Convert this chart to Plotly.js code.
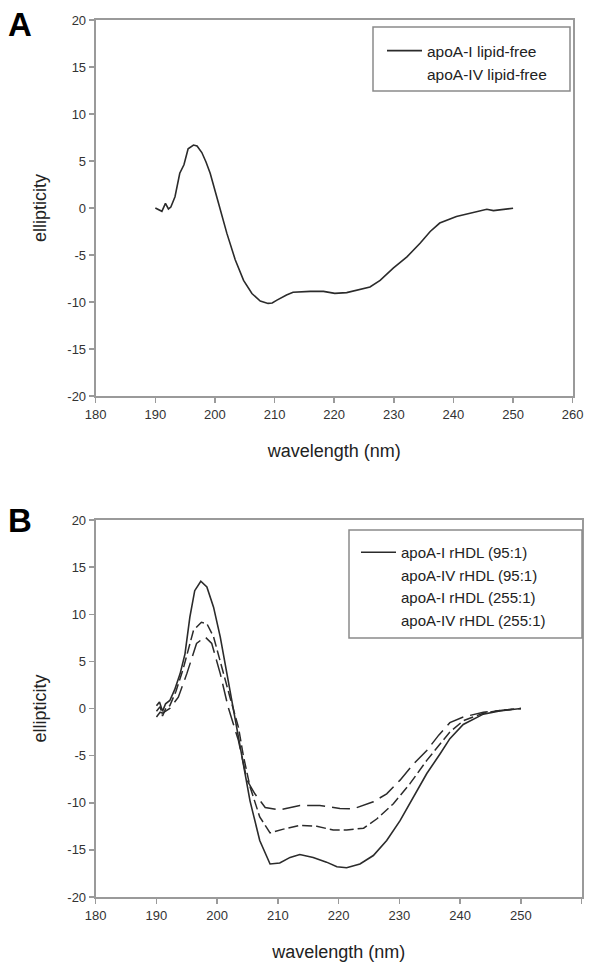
<!DOCTYPE html>
<html>
<head>
<meta charset="utf-8">
<script src="https://cdn.plot.ly/plotly-3.0.1.min.js"></script>
<style>html,body{margin:0;padding:0;background:#fff;}#chart{width:591px;height:968px;}</style>
</head>
<body>
<div id="chart"></div>
<script>
// ---- Panel A data ----
const A_apoAI_x = [190,190.5,191.1,191.7,192.2,192.6,193.3,194.1,194.8,195.5,196.4,197.0,197.8,198.5,199.2,200.6,202.0,203.4,204.8,206.2,207.6,208.9,209.6,210.4,212.0,213.1,214.5,216.0,218.2,220.1,222.1,224.3,226.0,227.7,229.9,232.2,234.4,236.1,237.7,240.5,242.8,245.6,246.7,248.5,250.0];
const A_apoAI_y = [0,-0.2,-0.35,0.5,-0.1,0.1,1.2,3.7,4.6,6.3,6.7,6.6,5.9,4.9,3.7,0.5,-2.7,-5.5,-7.7,-9.1,-9.9,-10.15,-10.1,-9.8,-9.25,-8.97,-8.9,-8.87,-8.87,-9.08,-9.0,-8.7,-8.4,-7.7,-6.4,-5.2,-3.75,-2.5,-1.6,-0.9,-0.57,-0.14,-0.28,-0.15,-0.03];
// apoA-IV lipid-free: no curve is visible in the reference picture
const A_apoAIV_x = [null];
const A_apoAIV_y = [null];

// ---- Panel B data ----
const B_apoAI95_x = [190,190.5,191,191.5,192.2,193.0,193.9,194.7,195.5,196.3,197.3,198.3,199.4,200.5,201.6,202.6,203.4,204.3,205.4,207.0,208.7,210.3,212.0,213.6,215.8,218.0,219.7,221.3,223.5,225.7,227.9,230.1,232.3,234.5,236.7,238.3,240.5,243.8,246.5,250];
const B_apoAI95_y = [0.3,0.7,-0.3,0.5,0.85,2.0,3.7,5.8,9.7,12.5,13.5,12.9,10.75,7.6,3.7,0.15,-3.0,-6.2,-9.8,-14.0,-16.5,-16.4,-15.8,-15.5,-15.8,-16.3,-16.8,-16.9,-16.5,-15.6,-14.0,-11.9,-9.4,-6.9,-4.8,-3.2,-1.7,-0.6,-0.25,0];
const B_apoAIV95_x = [190,190.6,191,191.6,192.2,193.2,194.4,195.3,196.1,197.4,198.3,199.4,200.7,202.1,203.5,204.3,205.4,207.0,208.7,210.9,213.6,216.4,219.1,221.3,224.1,226.3,229.0,231.7,234.5,236.7,238.3,240.5,243.8,246.5,250];
const B_apoAIV95_y = [-0.3,0.2,-0.8,0.1,0.3,1.8,4.2,6.5,8.3,9.15,9.0,7.6,4.4,1.2,-2.0,-5.0,-8.3,-11.5,-13.2,-12.8,-12.4,-12.5,-12.9,-12.9,-12.7,-11.7,-10.1,-8.0,-5.5,-3.75,-2.5,-1.3,-0.5,-0.2,0];
// apoA-I rHDL (255:1): no separate curve is visible in the reference picture
const B_apoAI255_x = [null];
const B_apoAI255_y = [null];
const B_apoAIV255_x = [190,190.6,191,191.6,192.2,193.6,195.0,196.6,198.0,199.1,200.5,201.8,203.5,204.9,206.2,207.9,210.3,213.6,216.9,220.2,222.4,225.7,227.9,230.1,232.3,234.5,236.5,238.3,240.5,243.8,246.5,250];
const B_apoAIV255_y = [-0.9,-0.4,-0.5,-0.2,0,1.2,3.7,6.9,7.6,6.9,3.7,0.15,-3.4,-7.6,-9.05,-10.5,-10.75,-10.3,-10.3,-10.6,-10.65,-9.9,-9.05,-7.6,-5.9,-4.45,-2.8,-1.5,-0.9,-0.4,-0.2,0];

const xTicks = [180,190,200,210,220,230,240,250,260];
const yTicks = [-20,-15,-10,-5,0,5,10,15,20];
const names = {
  A1: 'apoA-I lipid-free', A2: 'apoA-IV lipid-free',
  B1: 'apoA-I rHDL (95:1)', B2: 'apoA-IV rHDL (95:1)', B3: 'apoA-I rHDL (255:1)', B4: 'apoA-IV rHDL (255:1)'
};

const W = 591, H = 968;
const px = v => v / W, py = v => 1 - v / H;
const LC = '#2b2b2b';
const NONE = 'rgba(0,0,0,0)';

const traces = [
  {x: A_apoAI_x, y: A_apoAI_y, name: names.A1, xaxis: 'x', yaxis: 'y', legend: 'legend', mode: 'lines', line: {color: LC, width: 1.6}},
  {x: A_apoAIV_x, y: A_apoAIV_y, name: names.A2, xaxis: 'x', yaxis: 'y', legend: 'legend', mode: 'lines', line: {color: NONE, width: 1.6}},
  {x: B_apoAI95_x, y: B_apoAI95_y, name: names.B1, xaxis: 'x2', yaxis: 'y2', legend: 'legend2', mode: 'lines', line: {color: LC, width: 1.6}},
  // dashed curves (their legend samples are not shown in the reference, so legend entries come from transparent copies below)
  {x: B_apoAIV95_x, y: B_apoAIV95_y, name: names.B2, xaxis: 'x2', yaxis: 'y2', showlegend: false, mode: 'lines', line: {color: LC, width: 1.5, dash: '10px,4px'}},
  {x: B_apoAIV255_x, y: B_apoAIV255_y, name: names.B4, xaxis: 'x2', yaxis: 'y2', showlegend: false, mode: 'lines', line: {color: LC, width: 1.5, dash: '18px,7px'}},
  {x: B_apoAIV95_x, y: B_apoAIV95_y, name: names.B2, xaxis: 'x2', yaxis: 'y2', legend: 'legend2', mode: 'lines', line: {color: NONE, width: 1.5}},
  {x: B_apoAI255_x, y: B_apoAI255_y, name: names.B3, xaxis: 'x2', yaxis: 'y2', legend: 'legend2', mode: 'lines', line: {color: NONE, width: 1.5}},
  {x: B_apoAIV255_x, y: B_apoAIV255_y, name: names.B4, xaxis: 'x2', yaxis: 'y2', legend: 'legend2', mode: 'lines', line: {color: NONE, width: 1.5}}
];

const FONT = 'Liberation Sans, Arial, sans-serif';
function xax(domain, anchor) {
  return {domain: domain, anchor: anchor, range: [180, 260], tickvals: xTicks, ticktext: xTicks.map(String),
    showgrid: false, zeroline: false, showline: true, mirror: true, linecolor: '#9a9a9a', linewidth: 2,
    ticks: 'outside', ticklen: 5, tickwidth: 1.5, tickcolor: '#9a9a9a',
    tickfont: {family: FONT, size: 13, color: '#333'},
    title: {text: 'wavelength (nm)', font: {family: FONT, size: 18, color: '#222'}, standoff: 24}, automargin: false};
}
function yax(domain, anchor) {
  return {domain: domain, anchor: anchor, range: [-20, 20], tickvals: yTicks, ticktext: yTicks.map(String),
    showgrid: false, zeroline: false, showline: true, mirror: true, linecolor: '#9a9a9a', linewidth: 2,
    ticks: 'outside', ticklen: 5, tickwidth: 1.5, tickcolor: '#9a9a9a',
    tickfont: {family: FONT, size: 13, color: '#333'},
    title: {text: 'ellipticity', font: {family: FONT, size: 18, color: '#222'}, standoff: 16}, automargin: false};
}

const layout = {
  width: W, height: H, margin: {l: 0, r: 0, t: 0, b: 0},
  paper_bgcolor: '#fff', plot_bgcolor: '#fff', showlegend: true,
  font: {family: FONT},
  xaxis: xax([px(95.7), px(572.7)], 'y'),
  yaxis: yax([py(396), py(20)], 'x'),
  xaxis2: xax([px(95.7), px(581.7)], 'y2'),
  yaxis2: yax([py(897), py(520)], 'x2'),
  legend: {x: px(382), y: py(34), xanchor: 'left', yanchor: 'top', bgcolor: 'rgba(0,0,0,0)', borderwidth: 0,
    font: {family: FONT, size: 15.5, color: '#222'}, itemwidth: 35, tracegroupgap: 0},
  legend2: {x: px(356), y: py(536), xanchor: 'left', yanchor: 'top', bgcolor: 'rgba(0,0,0,0)', borderwidth: 0,
    font: {family: FONT, size: 15, color: '#222'}, itemwidth: 35, tracegroupgap: 0},
  shapes: [
    {type: 'rect', xref: 'paper', yref: 'paper', x0: px(373), x1: px(570), y0: py(27), y1: py(91), line: {color: '#8a8a8a', width: 1.5}},
    {type: 'rect', xref: 'paper', yref: 'paper', x0: px(349), x1: px(582), y0: py(530), y1: py(638), line: {color: '#8a8a8a', width: 1.5}}
  ],
  annotations: [
    {text: '<b>A</b>', xref: 'paper', yref: 'paper', x: px(6), y: py(4), xanchor: 'left', yanchor: 'top', showarrow: false, font: {family: FONT, size: 33, color: '#000'}},
    {text: '<b>B</b>', xref: 'paper', yref: 'paper', x: px(6), y: py(500), xanchor: 'left', yanchor: 'top', showarrow: false, font: {family: FONT, size: 33, color: '#000'}}
  ]
};

Plotly.newPlot('chart', traces, layout, {displayModeBar: false, staticPlot: true});
</script>
</body>
</html>
